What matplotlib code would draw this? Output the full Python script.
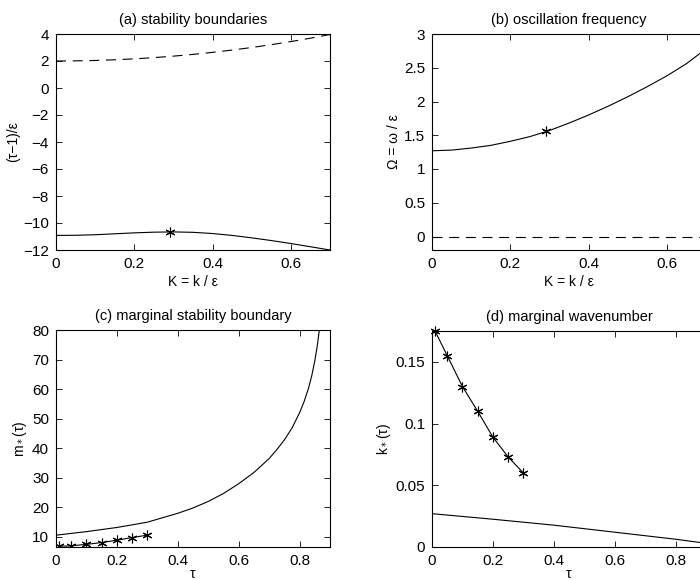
import numpy as np
import matplotlib
matplotlib.use("Agg")
import matplotlib.pyplot as plt
from matplotlib.ticker import FuncFormatter

plt.rcParams['font.family'] = ['Liberation Sans', 'DejaVu Sans']

# (a) stability boundaries
K_a = [0.0, 0.05, 0.1, 0.15, 0.2, 0.25, 0.3, 0.35, 0.4, 0.45, 0.5, 0.55, 0.6, 0.65, 0.7]
upper_a = [2.0, 2.01, 2.04, 2.09, 2.16, 2.25, 2.36, 2.49, 2.64, 2.81, 3.0, 3.21, 3.44, 3.69, 3.96]
lower_a = [-10.92, -10.91, -10.87, -10.80, -10.73, -10.68, -10.66, -10.69, -10.78,
           -10.92, -11.10, -11.30, -11.52, -11.76, -12.0]
star_a = (0.29, -10.66)

# (b) oscillation frequency
K_b = [0.0, 0.05, 0.1, 0.15, 0.2, 0.25, 0.3, 0.35, 0.4, 0.45, 0.5, 0.55, 0.6, 0.65, 0.7]
omega_b = [1.27, 1.28, 1.31, 1.35, 1.41, 1.48, 1.57, 1.68, 1.80, 1.93, 2.07, 2.22,
           2.38, 2.56, 2.78]
zero_b = [0.0] * len(K_b)
star_b = (0.29, 1.56)

# (c) marginal stability boundary
tau_c = [0.0, 0.1, 0.2, 0.3, 0.4, 0.45, 0.5, 0.55, 0.6, 0.65, 0.7, 0.725, 0.75,
         0.775, 0.8, 0.815, 0.83, 0.84, 0.85, 0.858, 0.865, 0.875]
m_c = [10.6, 11.8, 13.2, 15.0, 18.0, 19.8, 22.0, 24.7, 28.0, 31.8, 36.5, 39.5, 42.8,
       46.8, 52.0, 55.8, 60.5, 64.5, 69.5, 74.5, 80.0, 90.0]
tau_pts = [0.01, 0.05, 0.1, 0.15, 0.2, 0.25, 0.3]
m_pts = [6.85, 7.0, 7.5, 8.1, 8.9, 9.8, 10.6]

# (d) marginal wavenumber
tau_d = [0.0, 0.2, 0.4, 0.6, 0.8, 0.9]
k_d = [0.027, 0.0225, 0.0177, 0.012, 0.0063, 0.003]
k_pts = [0.175, 0.155, 0.13, 0.11, 0.089, 0.073, 0.06]

fig = plt.figure(figsize=(7, 5.8), dpi=100)
W, H = 700.0, 580.0
TICK = 11
LAB = 10
TTL = 10.5


def make_ax(x0, y0, x1, y1):
    ax = fig.add_axes([x0 / W, 1 - y1 / H, (x1 - x0) / W, (y1 - y0) / H])
    ax.tick_params(direction='in', top=True, right=True, length=4, width=0.6,
                   labelsize=TICK, pad=5)
    for s in ax.spines.values():
        s.set_linewidth(0.8)
    ax.yaxis.set_major_formatter(FuncFormatter(lambda v, p: ('%g' % v).replace('-', '\u2212')))
    ax.xaxis.set_major_formatter(FuncFormatter(lambda v, p: '%g' % v))
    return ax


ast = dict(marker=(6, 2, 0), markersize=7, markeredgewidth=0.8, color='k')
dsh = (9, 6)

ax = make_ax(56, 34, 330, 250)
ax.plot(K_a, upper_a, 'k--', lw=0.8, dashes=dsh)
ax.plot(K_a, lower_a, 'k-', lw=0.8)
ax.plot([star_a[0]], [star_a[1]], linestyle='none', **ast)
ax.set_xlim(0, 0.7)
ax.set_ylim(-12, 4)
ax.set_xticks([0, 0.2, 0.4, 0.6])
ax.set_yticks(np.arange(-12, 5, 2))
ax.set_title('(a) stability boundaries', fontsize=TTL, pad=7)
ax.set_xlabel('K = k / ε', fontsize=LAB, labelpad=3)
ax.set_ylabel('(τ\u22121)/ε', fontsize=LAB, labelpad=2)

ax = make_ax(432, 34, 706, 250)
ax.plot(K_b, omega_b, 'k-', lw=0.8)
ax.plot(K_b, zero_b, 'k--', lw=0.8, dashes=dsh)
ax.plot([star_b[0]], [star_b[1]], linestyle='none', **ast)
ax.set_xlim(0, 0.7)
ax.set_ylim(-0.2, 3)
ax.set_xticks([0, 0.2, 0.4, 0.6])
ax.set_yticks(np.arange(0, 3.01, 0.5))
ax.set_title('(b) oscillation frequency', fontsize=TTL, pad=7)
ax.set_xlabel('K = k / ε', fontsize=LAB, labelpad=3)
ax.set_ylabel('Ω = ω / ε', fontsize=LAB, labelpad=2)

ax = make_ax(56, 330, 330, 547)
ax.plot(tau_c, m_c, 'k-', lw=0.8)
ax.plot(tau_pts, m_pts, linestyle='-', lw=0.8, **ast)
ax.set_xlim(0, 0.9)
ax.set_ylim(6.6, 80)
ax.set_xticks([0, 0.2, 0.4, 0.6, 0.8])
ax.set_yticks(np.arange(10, 81, 10))
ax.set_title('(c) marginal stability boundary', fontsize=TTL, pad=7)
ax.set_xlabel('τ', fontsize=LAB, labelpad=-1)
ax.set_ylabel('m$_*$(τ)', fontsize=LAB, labelpad=2)

ax = make_ax(432, 331, 706, 547)
ax.plot(tau_d, k_d, 'k-', lw=0.8)
ax.plot(tau_pts, k_pts, linestyle='-', lw=0.8, clip_on=False, **ast)
ax.set_xlim(0, 0.9)
ax.set_ylim(0, 0.175)
ax.set_xticks([0, 0.2, 0.4, 0.6, 0.8])
ax.set_yticks([0, 0.05, 0.1, 0.15])
ax.set_title('(d) marginal wavenumber', fontsize=TTL, pad=7)
ax.set_xlabel('τ', fontsize=LAB, labelpad=-1)
ax.set_ylabel('k$_*$(τ)', fontsize=LAB, labelpad=2)

fig.savefig('out.png', dpi=100)
